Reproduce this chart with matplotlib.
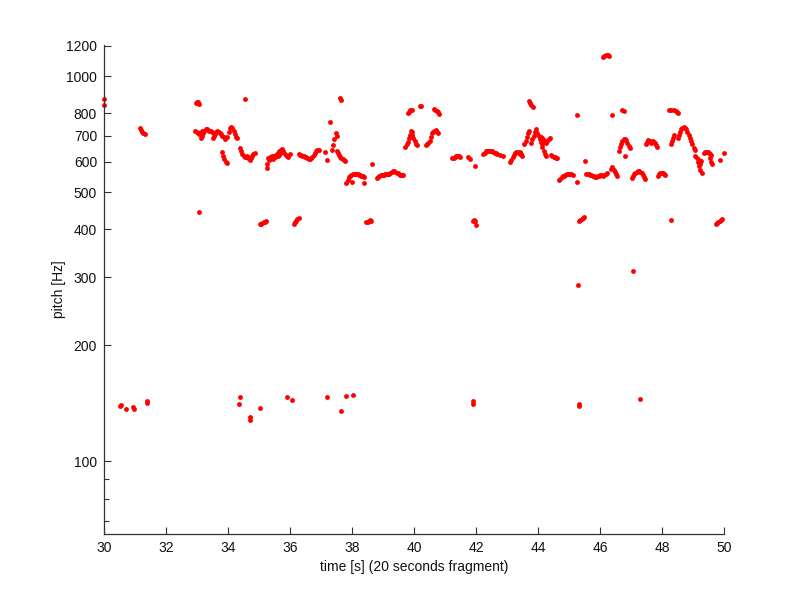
import matplotlib
matplotlib.use("Agg")
import matplotlib.pyplot as plt
from matplotlib.ticker import FixedLocator, NullFormatter

plt.rcParams['font.family'] = ['Liberation Sans', 'DejaVu Sans']

# pitch-track frame hop (s)
hop = 0.04

# contiguous pitch runs: start time and pitch values (Hz) per frame
run_start = [31.15, 32.96, 32.95, 33.12, 33.50, 33.78, 33.80, 33.98, 34.38,
             35.30, 35.32, 36.28, 37.35, 37.50, 37.82, 38.80,
             39.72, 39.90, 39.80, 40.38, 40.65, 41.24, 42.24, 43.10,
             43.41, 43.56, 43.78, 43.98, 44.06, 44.14, 44.42, 43.71, 44.68,
             45.56, 46.10, 46.36, 46.10, 46.60, 47.02, 47.48, 47.87,
             48.24, 48.40, 48.28, 48.50, 49.08, 49.35,
             35.03, 36.12, 38.46, 41.90, 45.33, 49.74]
run_pitch = [
    [732, 724, 716, 710, 706],
    [852, 858, 856, 848],
    [722, 715, 710, 706, 712, 720],
    [692, 700, 712, 722, 728, 730, 726, 722, 720, 716],
    [690, 698, 708, 716, 720, 718, 712],
    [706, 700, 694, 688],
    [635, 622, 610, 600, 596],
    [695, 715, 732, 740, 735, 722, 708, 695, 690],
    [652, 640, 628, 620, 615, 618, 622, 612, 606, 612, 620, 628, 632],
    [612, 615, 618, 620, 622, 620, 625, 628, 630, 638, 645, 648, 640, 632, 625, 620, 615],
    [605, 608, 612, 610, 615, 618, 620, 622, 625, 630, 635],
    [628, 626, 624, 622, 620, 618, 616, 612, 610, 608, 612, 618, 625, 632, 638, 642],
    [645, 662, 685, 712],
    [640, 632, 625, 618, 612, 608, 605, 603],
    [528, 538, 546, 551, 554, 556, 557, 557, 556, 556, 555, 554, 552, 550, 548],
    [545, 548, 551, 553, 554, 554, 555, 556, 556, 557, 558, 560, 563, 566, 567, 565,
     562, 559, 557, 555, 554, 553],
    [655, 665, 675, 690, 705, 715],
    [720, 705, 690, 678, 668, 662],
    [800, 808, 816, 818],
    [662, 665, 670, 680, 695, 710, 718, 722, 726, 718, 712],
    [822, 818, 812, 806, 798],
    [612, 614, 618, 620, 621, 620, 618],
    [628, 632, 638, 640, 641, 641, 640, 638, 636, 632, 630, 628],
    [600, 606, 615, 624, 632, 636, 634, 630, 628],
    [635, 628, 620],
    [668, 680, 695, 710, 722],
    [670, 685, 700, 715, 728],
    [712, 700, 688, 676, 668],
    [690, 694, 690, 684, 676, 672, 680, 688, 692],
    [655, 640, 628, 620],
    [625, 620, 617, 615, 614, 613],
    [860, 852, 843, 834],
    [538, 542, 546, 549, 552, 555, 557, 558, 558, 557, 556, 555],
    [558, 557, 556, 555, 553, 551, 549, 548, 548, 549, 551, 553, 555],
    [552, 555, 558, 562],
    [575, 580, 572, 565, 558, 552],
    [1120, 1128, 1134, 1136, 1134, 1125],
    [640, 655, 668, 678, 685, 688, 682, 672, 660, 650],
    [545, 552, 558, 562, 565, 566, 566, 564, 560, 555, 548, 540],
    [665, 675, 684, 680, 672, 676, 680, 672, 662, 656],
    [552, 556, 560, 561, 559, 556, 554],
    [818, 819],
    [818, 814, 808, 803],
    [668, 680, 692, 702],
    [690, 705, 718, 728, 734, 736, 734, 728, 718, 705, 692, 678, 665, 652, 642],
    [622, 612, 600, 585, 570, 560],
    [630, 636, 636, 634, 632, 628, 624],
    [412, 413, 415, 417, 419, 421],
    [414, 417, 421, 425, 428],
    [417, 419, 421, 422, 421],
    [420, 423, 420],
    [420, 423, 426, 428, 430],
    [413, 415, 418, 421, 424, 426],
]

# isolated detections
iso_t = [30.0, 30.0,
         30.52, 30.54, 30.72, 30.92, 30.96, 31.38, 31.39, 34.35, 34.38, 34.70, 34.72,
         35.03, 35.89, 36.05, 37.18, 37.66, 37.80, 38.02, 41.89, 41.90, 45.32, 45.33, 47.30,
         33.05, 42.00, 48.30, 45.29, 47.05,
         34.54, 35.25, 35.26, 35.99, 36.95, 37.12, 37.19, 37.28, 37.50, 37.60, 37.65,
         38.00, 38.38, 38.66, 40.18, 40.24, 41.75, 41.82, 41.96, 42.78, 42.87,
         45.26, 45.26, 45.50, 46.39, 46.72, 46.78, 46.80, 49.20, 49.22, 49.26,
         49.55, 49.58, 49.60, 49.86, 49.99]
iso_f = [870, 842,
         139, 140, 137, 138, 137, 143.6, 142, 140.6, 146.6, 130, 128,
         137.8, 147, 144, 147, 135, 148, 149, 143, 141, 141, 139, 145,
         444, 410, 424, 287, 312,
         871, 578, 590, 628, 645, 636, 604, 761, 700, 878, 868,
         532, 527, 590, 838, 835, 618, 610, 584, 624, 619,
         792, 530, 603, 792, 815, 812, 620, 606, 590, 603,
         612, 600, 592, 605, 632]

x_ticks = list(range(30, 51, 2))
y_ticks = [100, 200, 300, 400, 500, 600, 700, 800, 1000, 1200]
y_minor = [70, 80, 90]

times, pitches = [], []
for t0, vals in zip(run_start, run_pitch):
    for i, v in enumerate(vals):
        times.append(t0 + i * hop)
        pitches.append(v)
times += iso_t
pitches += iso_f

fig = plt.figure(figsize=(8, 6), dpi=100)
ax = fig.add_axes([0.13, 0.11, 0.775, 0.815])
ax.plot(times, pitches, linestyle='none', marker='o', markersize=3.5,
        markeredgewidth=0, color='#ff0000', clip_on=False)

ax.set_yscale('log')
ax.set_xlim(30, 50)
ax.set_ylim(64.7, 1205)
ax.yaxis.set_major_locator(FixedLocator(y_ticks))
ax.yaxis.set_minor_locator(FixedLocator(y_minor))
ax.yaxis.set_minor_formatter(NullFormatter())
ax.set_yticklabels([str(v) for v in y_ticks])
ax.set_xticks(x_ticks)
ax.set_xticklabels([str(v) for v in x_ticks])

for s in ['top', 'right']:
    ax.spines[s].set_visible(False)
for s in ['left', 'bottom']:
    ax.spines[s].set_color('#333333')
    ax.spines[s].set_linewidth(0.9)

ax.tick_params(which='major', direction='in', length=5, width=0.8, color='#333333',
               labelsize=10, pad=5, labelcolor='#111111')
ax.tick_params(which='minor', direction='in', length=3.5, width=0.8, color='#333333')
ax.tick_params(axis='x', which='minor', bottom=False)

ax.set_xlabel('time [s] (20 seconds fragment)', fontsize=10, labelpad=4, color='#111111')
ax.set_ylabel('pitch [Hz]', fontsize=10, labelpad=0, color='#111111')

fig.savefig('out.png', dpi=100, facecolor='white')
